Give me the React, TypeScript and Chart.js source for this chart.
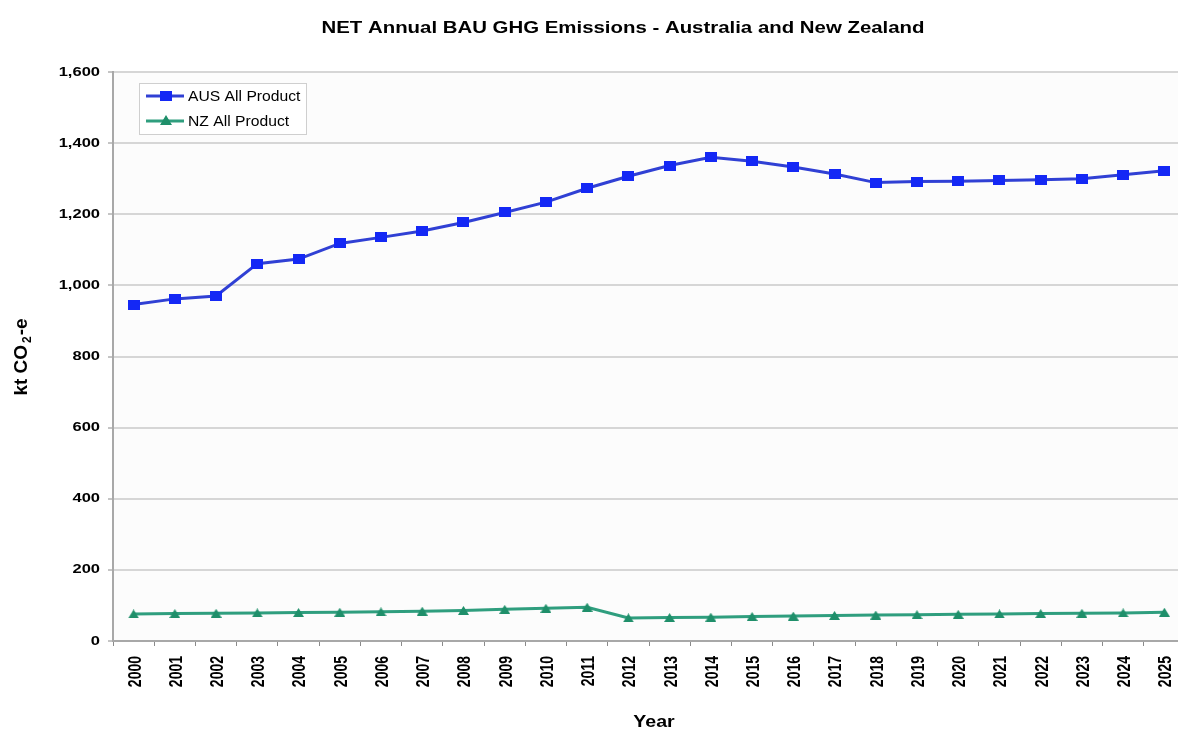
import React, { useEffect, useRef } from 'react';
import { Chart, registerables } from 'chart.js';

Chart.register(...registerables);

const years = [
  '2000', '2001', '2002', '2003', '2004', '2005', '2006', '2007', '2008', '2009',
  '2010', '2011', '2012', '2013', '2014', '2015', '2016', '2017', '2018', '2019',
  '2020', '2021', '2022', '2023', '2024', '2025',
];

const ausValues = [
  946, 962, 970, 1061, 1074, 1118, 1135, 1153, 1177, 1205,
  1234, 1273, 1307, 1337, 1360, 1349, 1333, 1313, 1289, 1292,
  1293, 1295, 1297, 1300, 1311, 1322,
];

const nzValues = [
  76, 77, 78, 79, 80, 81, 82, 84, 86, 89,
  92, 95, 65, 66, 67, 69, 70, 72, 73, 74,
  75, 76, 77, 78, 79, 81,
];

const AUS_LABEL = 'AUS All Product';
const NZ_LABEL = 'NZ All Product';
const TITLE = 'NET Annual BAU GHG Emissions - Australia and New Zealand';
const X_TITLE = 'Year';
const Y_TITLE_MAIN = 'kt CO';
const Y_TITLE_SUB = '2';
const Y_TITLE_END = '-e';

const FONT = '"Liberation Sans", Arial, Helvetica, sans-serif';

const AUS_LINE = '#3040d4';
const AUS_POINT = '#1428f5';
const NZ_LINE = '#2f9e7e';
const NZ_POINT = '#1f8f6a';

function makeRectPoint(w: number, h: number, color: string) {
  const c = document.createElement('canvas');
  c.width = w;
  c.height = h;
  const g = c.getContext('2d')!;
  g.fillStyle = color;
  g.fillRect(0, 0, w, h);
  return c;
}

function makeTrianglePoint(w: number, h: number, color: string) {
  const c = document.createElement('canvas');
  c.width = w;
  c.height = h;
  const g = c.getContext('2d')!;
  g.fillStyle = color;
  g.beginPath();
  g.moveTo(w / 2, 0);
  g.lineTo(w, h);
  g.lineTo(0, h);
  g.closePath();
  g.fill();
  return c;
}

function stretchedText(
  ctx: CanvasRenderingContext2D,
  text: string,
  x: number,
  y: number,
  font: string,
  sx: number,
  align: CanvasTextAlign,
) {
  ctx.save();
  ctx.translate(x, y);
  ctx.scale(sx, 1);
  ctx.font = font;
  ctx.textAlign = align;
  ctx.textBaseline = 'middle';
  ctx.fillText(text, 0, 0);
  ctx.restore();
}

const decorPlugin = {
  id: 'decor',
  beforeDraw(chart: any) {
    const { ctx, chartArea } = chart;
    ctx.save();
    ctx.fillStyle = '#ffffff';
    ctx.fillRect(0, 0, chart.width, chart.height);
    ctx.fillStyle = '#fcfcfc';
    ctx.fillRect(chartArea.left, chartArea.top, chartArea.right - chartArea.left, chartArea.bottom - chartArea.top);
    ctx.restore();
  },
  afterDraw(chart: any) {
    const { ctx } = chart;
    ctx.save();
    ctx.fillStyle = '#000';

    // Title
    stretchedText(ctx, TITLE, 623, 28, `bold 17px ${FONT}`, 1.2, 'center');

    // X title
    stretchedText(ctx, X_TITLE, 654, 722, `bold 17px ${FONT}`, 1.15, 'center');

    // Y tick labels
    const yScale = chart.scales.y;
    yScale.ticks.forEach((t: any) => {
      const py = yScale.getPixelForValue(t.value);
      stretchedText(ctx, Number(t.value).toLocaleString('en-US'), 100, py, `bold 13px ${FONT}`, 1.27, 'right');
    });

    // X tick labels (rotated)
    const xScale = chart.scales.x;
    xScale.ticks.forEach((t: any, i: number) => {
      const px = xScale.getPixelForTick(i) + 2;
      const label = xScale.getLabelForValue(t.value);
      ctx.save();
      ctx.translate(px, chart.chartArea.bottom + 15);
      ctx.rotate(-Math.PI / 2);
      ctx.scale(1, 1.28);
      ctx.font = `bold 14px ${FONT}`;
      ctx.textAlign = 'right';
      ctx.textBaseline = 'middle';
      ctx.fillText(label, 0, 0);
      ctx.restore();
    });

    // Y title (rotated, with subscript)
    ctx.save();
    ctx.translate(20, 357);
    ctx.rotate(-Math.PI / 2);
    ctx.font = `bold 19px ${FONT}`;
    const w1 = ctx.measureText(Y_TITLE_MAIN).width;
    ctx.font = `bold 12px ${FONT}`;
    const w2 = ctx.measureText(Y_TITLE_SUB).width;
    ctx.font = `bold 19px ${FONT}`;
    const w3 = ctx.measureText(Y_TITLE_END).width;
    const total = w1 + w2 + 3 + w3;
    let x = -total / 2;
    ctx.textAlign = 'left';
    ctx.textBaseline = 'alphabetic';
    ctx.fillText(Y_TITLE_MAIN, x, 7);
    x += w1 + 2;
    ctx.font = `bold 12px ${FONT}`;
    ctx.fillText(Y_TITLE_SUB, x, 11);
    x += w2 + 1;
    ctx.font = `bold 19px ${FONT}`;
    ctx.fillText(Y_TITLE_END, x, 7);
    ctx.restore();

    // Legend box
    const bx = 139, by = 83, bw = 167, bh = 51;
    ctx.fillStyle = '#ffffff';
    ctx.fillRect(bx, by, bw, bh);
    ctx.strokeStyle = '#cfcfcf';
    ctx.lineWidth = 1;
    ctx.strokeRect(bx + 0.5, by + 0.5, bw, bh);

    const items = [
      { label: chart.data.datasets[0].label, line: AUS_LINE, point: AUS_POINT, style: 'rect', y: 96 },
      { label: chart.data.datasets[1].label, line: NZ_LINE, point: NZ_POINT, style: 'triangle', y: 121 },
    ];
    items.forEach((it) => {
      ctx.strokeStyle = it.line;
      ctx.lineWidth = 3;
      ctx.beginPath();
      ctx.moveTo(146, it.y);
      ctx.lineTo(184, it.y);
      ctx.stroke();
      ctx.fillStyle = it.point;
      ctx.beginPath();
      if (it.style === 'rect') {
        ctx.rect(166 - 6, it.y - 5, 12, 10);
      } else {
        ctx.moveTo(166, it.y - 6);
        ctx.lineTo(172, it.y + 4);
        ctx.lineTo(160, it.y + 4);
        ctx.closePath();
      }
      ctx.fill();
      ctx.fillStyle = '#000';
      stretchedText(ctx, it.label, 188, it.y + 1, `14px ${FONT}`, 1.12, 'left');
    });
    ctx.restore();
  },
};

export default function App() {
  const canvasRef = useRef<HTMLCanvasElement | null>(null);

  useEffect(() => {
    const canvas = canvasRef.current;
    if (!canvas) return;
    const ausPoint = makeRectPoint(12, 10, AUS_POINT);
    const nzPoint = makeTrianglePoint(11, 9, NZ_POINT);
    const chart = new Chart(canvas, {
      type: 'line',
      data: {
        labels: years,
        datasets: [
          {
            label: AUS_LABEL,
            data: ausValues,
            borderColor: AUS_LINE,
            backgroundColor: AUS_POINT,
            pointStyle: ausPoint,
            pointRadius: 6,
            borderWidth: 3,
            tension: 0,
          },
          {
            label: NZ_LABEL,
            data: nzValues,
            borderColor: NZ_LINE,
            backgroundColor: NZ_POINT,
            pointStyle: nzPoint,
            pointRadius: 6,
            borderWidth: 3,
            tension: 0,
          },
        ],
      },
      options: {
        responsive: false,
        animation: false,
        devicePixelRatio: 1,
        layout: { padding: { top: 72, left: 0, right: 4, bottom: 0 } },
        plugins: {
          legend: { display: false },
          title: { display: false },
          tooltip: { enabled: false },
        },
        scales: {
          x: {
            type: 'category',
            offset: true,
            grid: {
              offset: true,
              drawOnChartArea: false,
              drawTicks: true,
              tickLength: 5,
              color: '#8a8a8a',
              lineWidth: 1,
            },
            border: { display: true, color: '#a8a8a8', width: 2 },
            ticks: {
              display: false,
              autoSkip: false,
            },
            afterFit: (s: any) => {
              s.height = 90;
            },
          },
          y: {
            min: 0,
            max: 1600,
            ticks: {
              display: false,
              stepSize: 200,
            },
            grid: {
              color: '#d6d6d6',
              lineWidth: 2,
              tickLength: 5,
              tickColor: '#8a8a8a',
              tickWidth: 1,
            },
            border: { display: true, color: '#a8a8a8', width: 2 },
            afterFit: (s: any) => {
              s.width = 113;
            },
          },
        },
      } as any,
      plugins: [decorPlugin],
    });
    return () => chart.destroy();
  }, []);

  return (
    <div
      style={{
        position: 'fixed',
        left: 0,
        top: 0,
        width: 1178,
        height: 731,
        overflow: 'hidden',
        background: '#fff',
      }}
    >
      <canvas ref={canvasRef} width={1194} height={731} style={{ display: 'block' }} />
    </div>
  );
}
